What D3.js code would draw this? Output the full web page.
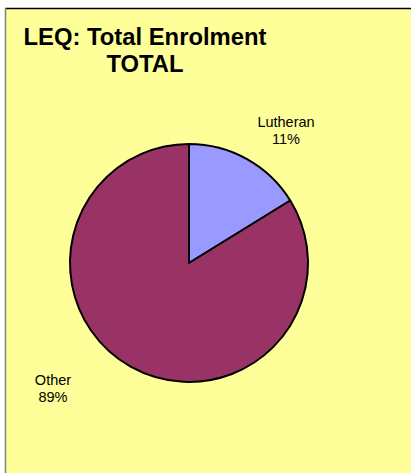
<!DOCTYPE html>
<html>
<head>
<meta charset="utf-8">
<script src="https://cdn.jsdelivr.net/npm/d3@7"></script>
<style>
  body { margin: 0; background: #fff; }
  svg text { font-family: Arial, "Liberation Sans", sans-serif; }
</style>
</head>
<body>
<div id="chart"></div>
<script>
// slice shares as drawn, and the percent labels printed on the chart
const categories = ["Lutheran", "Other"];
const shares = [16.2, 83.8];
const pctLabels = ["11%", "89%"];
const colors = ["#9999FF", "#993366"];

const width = 411, height = 473;

const svg = d3.select("#chart").append("svg")
    .attr("width", width)
    .attr("height", height);

// chart area background + border
svg.append("rect")
    .attr("x", 5.5).attr("y", 8.5)
    .attr("width", width).attr("height", height)
    .attr("fill", "#FFFF99");
svg.append("line")
    .attr("x1", 5).attr("x2", width).attr("y1", 8.5).attr("y2", 8.5)
    .attr("stroke", "#000").attr("stroke-width", 1.5);
svg.append("line")
    .attr("x1", 5.5).attr("x2", 5.5).attr("y1", 8).attr("y2", height)
    .attr("stroke", "#808080").attr("stroke-width", 1.5);

// title
const title = svg.append("text")
    .attr("text-anchor", "middle")
    .attr("font-weight", "bold")
    .attr("font-size", 23.8);
title.append("tspan").attr("x", 145).attr("y", 45).text("LEQ: Total Enrolment");
title.append("tspan").attr("x", 145).attr("y", 72).text("TOTAL");

// pie
const cx = 189, cy = 263, r = 119;
const data = categories.map((c, i) => ({ name: c, value: shares[i], label: pctLabels[i], color: colors[i] }));

const pie = d3.pie().value(d => d.value).sort(null);
const arc = d3.arc().innerRadius(0).outerRadius(r);

const g = svg.append("g").attr("transform", `translate(${cx},${cy})`);
g.selectAll("path")
    .data(pie(data))
    .join("path")
    .attr("d", arc)
    .attr("fill", d => d.data.color)
    .attr("stroke", "#000")
    .attr("stroke-width", 2)
    .attr("stroke-linejoin", "round");

// labels outside
const labelPos = [[286, 127], [53, 385]];
data.forEach((d, i) => {
    const t = svg.append("text")
        .attr("text-anchor", "middle")
        .attr("font-size", 14.5)
        .attr("fill", "#000");
    t.append("tspan").attr("x", labelPos[i][0]).attr("y", labelPos[i][1]).text(d.name);
    t.append("tspan").attr("x", labelPos[i][0]).attr("y", labelPos[i][1] + 17).text(d.label);
});
</script>
</body>
</html>
